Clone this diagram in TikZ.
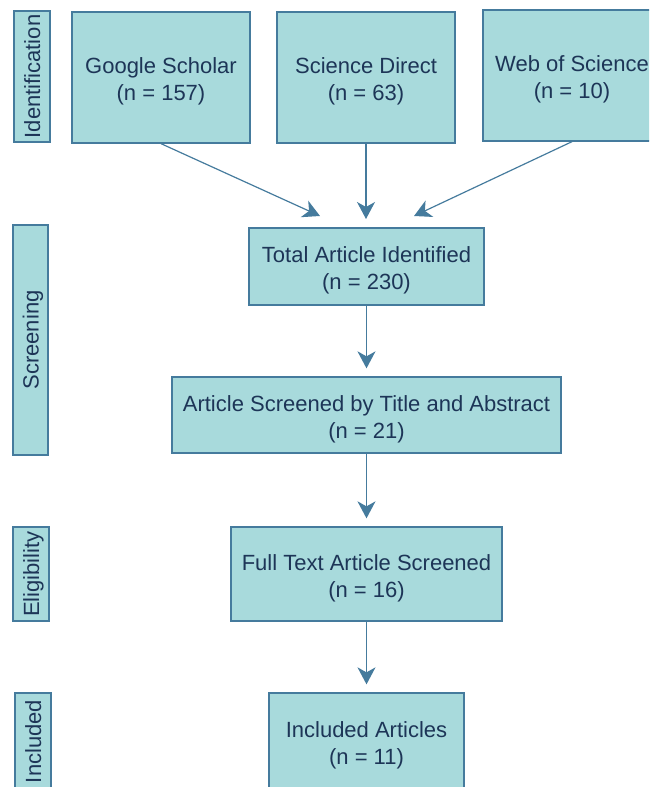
\documentclass[tikz,border=0pt]{standalone}
\usepackage{fontspec}
\setmainfont{Liberation Sans}
\usetikzlibrary{arrows.meta}
\definecolor{boxfill}{HTML}{A8DADC}
\definecolor{boxline}{HTML}{457B9D}
\definecolor{boxtext}{HTML}{1D3557}

\begin{document}
\begin{tikzpicture}[x=1pt,y=-1pt,
    knoten/.style={draw=boxline,fill=boxfill,line width=1.3pt,text=boxtext,align=center,inner sep=0pt,font=\fontsize{22}{27}\selectfont},
    box/.style={knoten,text height=51pt,text depth=5pt},
    phase/.style={knoten,rotate=90,text height=18pt,text depth=2pt},
    pfeil/.style={draw=boxline,line width=1.2pt,-{Stealth[length=17pt,width=18pt,inset=5pt]}}]
    \pgfmathsetmacro{\quelleBreite}{178}
    \pgfmathsetmacro{\quelleHoehe}{131}
    \pgfmathsetmacro{\abstand}{8}

    % Rahmen
    \clip (0,0) rectangle (649,787);

    % Phasen
    \node[phase,minimum width=131pt,minimum height=36pt] (identification) at (32,76.5) {Identification};
    \node[phase,minimum width=230pt,minimum height=35pt] (screening) at (30.5,340) {Screening};
    \node[phase,minimum width=94pt,minimum height=36pt] (eligibility) at (31,574) {Eligibility};
    \node[phase,minimum width=97pt,minimum height=36pt] (included) at (33,741.5) {Included};

    % Quellen
    \node[box,minimum width=\quelleBreite pt,minimum height=\quelleHoehe pt] (scholar) at (161,77.5) {Google Scholar\\(n = 157)};
    \node[box,minimum width=\quelleBreite pt,minimum height=\quelleHoehe pt] (direct) at (366,77.5) {Science Direct\\(n = 63)};
    \node[box,minimum width=\quelleBreite pt,minimum height=\quelleHoehe pt] (wos) at (572,75.5) {Web of Science\\(n = 10)};

    % Ziele der Quellenpfeile
    \coordinate (zielL) at (320,216);
    \coordinate (zielM) at (366,219);
    \coordinate (zielR) at (414,216);

    % Ablauf
    \node[box,minimum width=235pt,minimum height=77pt] (total) at (366.5,266.5) {Total Article Identified\\(n = 230)};
    \node[box,minimum width=389pt,minimum height=76pt] (screened) at (366.5,415) {Article Screened by Title and Abstract\\(n = 21)};
    \node[box,minimum width=271pt,minimum height=94pt] (fulltext) at (366.5,574) {Full Text Article Screened\\(n = 16)};
    \node[box,minimum width=195pt,minimum height=97pt] (articles) at (366.5,741.5) {Included Articles\\(n = 11)};

    % Pfeile
    \draw[pfeil] (scholar.south) -- (zielL);
    \draw[pfeil] (direct.south) -- (zielM);
    \draw[pfeil] (wos.south) -- (zielR);
    \draw[pfeil,shorten >=\abstand pt] (total.south) -- (screened.north);
    \draw[pfeil,shorten >=\abstand pt] (screened.south) -- (fulltext.north);
    \draw[pfeil,shorten >=\abstand pt] (fulltext.south) -- (articles.north);
\end{tikzpicture}
\end{document}
